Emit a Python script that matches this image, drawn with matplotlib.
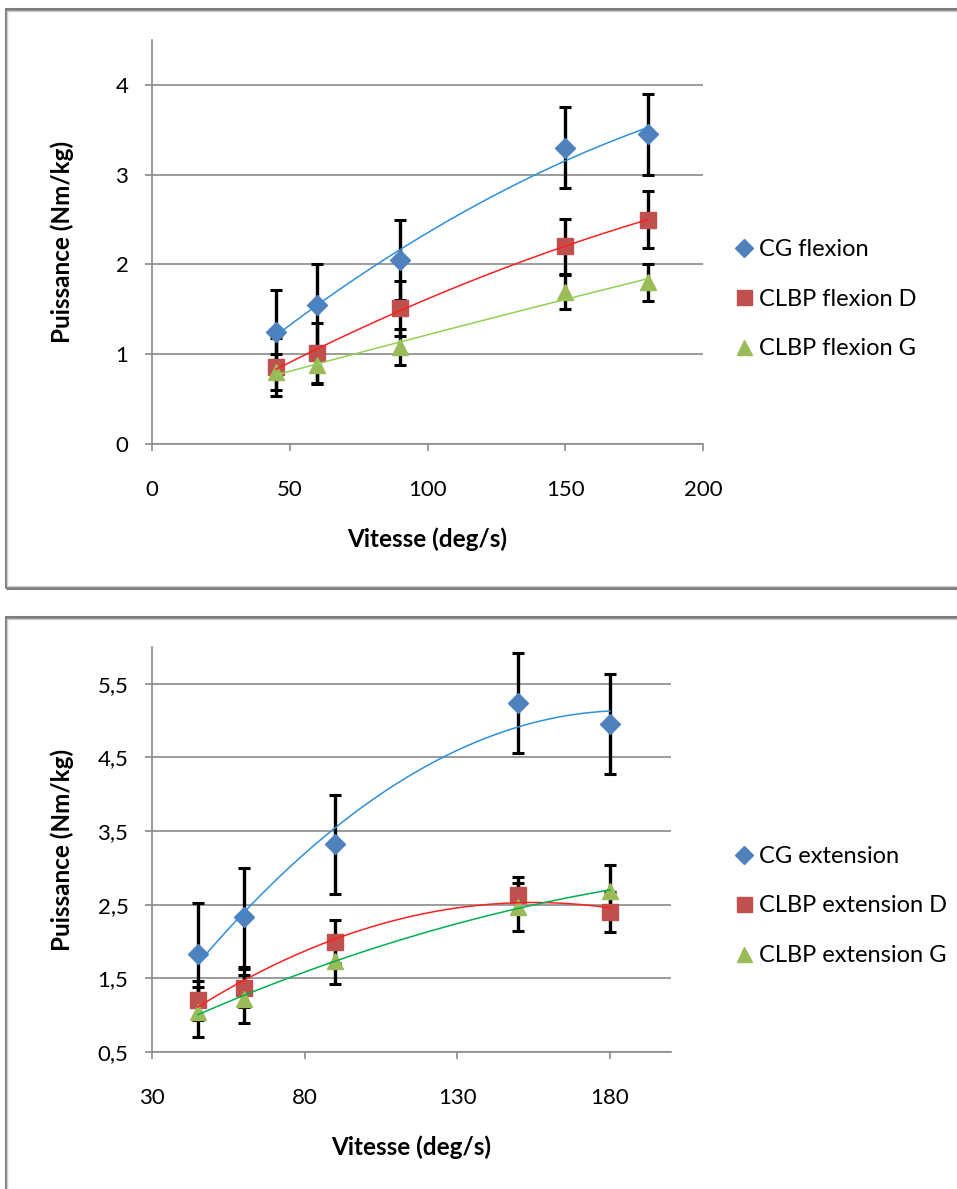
import numpy as np
import matplotlib
matplotlib.use("Agg")
import matplotlib.pyplot as plt
from matplotlib.patches import Rectangle
from matplotlib.lines import Line2D
from matplotlib.ticker import MultipleLocator, FuncFormatter

plt.rcParams['font.family'] = ['Lato', 'DejaVu Sans']

# speeds (deg/s)
vitesse = [45, 60, 90, 150, 180]

# flexion
cg_flex = [1.25, 1.55, 2.05, 3.30, 3.45]
cg_flex_err = [0.46, 0.46, 0.45, 0.45, 0.45]
clbp_flex_d = [0.86, 1.01, 1.51, 2.20, 2.50]
clbp_flex_d_err = [0.32, 0.34, 0.31, 0.31, 0.32]
clbp_flex_g = [0.80, 0.88, 1.08, 1.69, 1.80]
clbp_flex_g_err = [0.20, 0.20, 0.20, 0.19, 0.21]

# extension
cg_ext = [1.83, 2.33, 3.32, 5.24, 4.96]
cg_ext_err = [0.70, 0.67, 0.67, 0.68, 0.68]
clbp_ext_d = [1.20, 1.37, 2.00, 2.63, 2.40]
clbp_ext_d_err = [0.27, 0.26, 0.29, 0.25, 0.27]
clbp_ext_g = [1.04, 1.22, 1.74, 2.47, 2.69]
clbp_ext_g_err = [0.34, 0.32, 0.32, 0.33, 0.35]

flex_labels = ["CG flexion", "CLBP flexion D", "CLBP flexion G"]
ext_labels = ["CG extension", "CLBP extension D", "CLBP extension G"]

mk_colors = ['#4F81BD', '#C0504D', '#9BBB59']
markers = ['D', 's', '^']
msizes = [10, 12, 12]
grid_c = '#8a8a8a'

W, H = 957, 1189
fig = plt.figure(figsize=(W / 100, H / 100), dpi=100)

# panel borders
for top, bot in [(9, 588), (617, 1200)]:
    fig.add_artist(Rectangle((5.5 / W, 1 - bot / H), (W + 10) / W, (bot - top) / H,
                             transform=fig.transFigure, fill=False,
                             edgecolor='#7f7f7f', lw=2.2))
    fig.add_artist(Rectangle((7.5 / W, 1 - (bot - 2) / H), (W + 10) / W, (bot - top - 4) / H,
                             transform=fig.transFigure, fill=False,
                             edgecolor='#d0d0d0', lw=1))


def draw(ax, series, errs, trend_colors, width_px):
    for y, e in zip(series, errs):
        ax.errorbar(vitesse, y, yerr=e, fmt='none', ecolor='black',
                    elinewidth=2.4, capsize=4, capthick=2.2, zorder=3)
    for i, y in enumerate(series):
        ax.plot(vitesse, y, linestyle='none', marker=markers[i],
                color=mk_colors[i], markersize=msizes[i], zorder=4)
    for i, y in enumerate(series):
        c = np.polyfit(vitesse, y, 2)
        xs = np.linspace(min(vitesse), max(vitesse), 200)
        ax.plot(xs, np.polyval(c, xs), color=trend_colors[i], lw=1.1, zorder=5)
    for s in ['top', 'right']:
        ax.spines[s].set_visible(False)
    for s in ['left', 'bottom']:
        ax.spines[s].set_color(grid_c)
        ax.spines[s].set_linewidth(1.2)
    ax.grid(axis='y', color=grid_c, lw=1.2)
    ax.set_axisbelow(True)
    ax.tick_params(axis='both', colors=grid_c, labelcolor='black',
                   labelsize=16, length=5, width=1.2)
    ax.tick_params(axis='x', pad=21)
    ax.tick_params(axis='y', pad=12)
    ax.set_xlabel("Vitesse (deg/s)", fontsize=17.5, fontweight='bold', va='center')
    ax.set_ylabel("Puissance (Nm/kg)", fontsize=17.5, fontweight='bold', va='center')
    ax.xaxis.set_label_coords(0.5, -95 / 404)
    ax.yaxis.set_label_coords(-90 / width_px, 0.5)
    handles = [Line2D([], [], linestyle='none', marker=markers[i], color=mk_colors[i],
                      markersize=msizes[i] * 0.9) for i in range(3)]
    return handles


def legend(handles, labels, x, y):
    fig.legend(handles, labels, loc='center left', bbox_to_anchor=(x / W, 1 - y / H),
               frameon=False, fontsize=17, handletextpad=0.2, labelspacing=1.2,
               handlelength=0.8, borderpad=0, borderaxespad=0)


# top: flexion
ax1 = fig.add_axes([152 / W, 1 - 444 / H, 551 / W, 404 / H])
h1 = draw(ax1, [cg_flex, clbp_flex_d, clbp_flex_g],
          [cg_flex_err, clbp_flex_d_err, clbp_flex_g_err],
          ['#2E8FDB', '#FF2020', '#92D050'], 551)
ax1.set_xlim(0, 200)
ax1.set_ylim(0, 4.5)
ax1.xaxis.set_major_locator(MultipleLocator(50))
ax1.set_yticks([0, 1, 2, 3, 4])
legend(h1, flex_labels, 735, 299)

# bottom: extension
ax2 = fig.add_axes([152 / W, 1 - 1052 / H, 519 / W, 405 / H])
h2 = draw(ax2, [cg_ext, clbp_ext_d, clbp_ext_g],
          [cg_ext_err, clbp_ext_d_err, clbp_ext_g_err],
          ['#2E8FDB', '#FF2020', '#00B050'], 519)
ax2.set_xlim(30, 200)
ax2.set_ylim(0.5, 6.0)
ax2.set_xticks([30, 80, 130, 180])
ax2.set_yticks([0.5, 1.5, 2.5, 3.5, 4.5, 5.5])
ax2.yaxis.set_major_formatter(FuncFormatter(lambda v, p: f"{v:.1f}".replace('.', ',')))
legend(h2, ext_labels, 735, 906)

fig.savefig("out.png", dpi=100)
